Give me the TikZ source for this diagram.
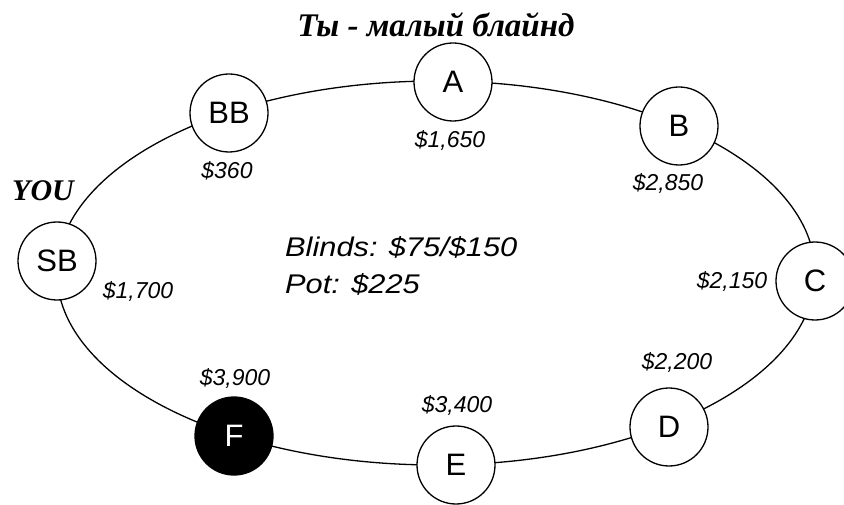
\documentclass[tikz,border=0pt]{standalone}
\usepackage{fontspec}
\setmainfont{Liberation Serif}
\setsansfont{Liberation Sans}
\newfontfamily\widesans[FakeStretch=1.14]{Liberation Sans}
\begin{document}
\begin{tikzpicture}[x=1pt,y=1pt,
  seat/.style={circle,draw,line width=1.3pt,fill=white,minimum size=78pt,inner sep=0pt,
    font=\sffamily\fontsize{31}{34}\selectfont},
  dark/.style={seat,fill=black,text=white},
  chips/.style={font=\sffamily\itshape\fontsize{23}{26}\selectfont,inner sep=0pt},
  boldit/.style={font=\rmfamily\bfseries\itshape\fontsize{33}{36}\selectfont,inner sep=0pt}]
\useasboundingbox (0,0) rectangle (844,504);
\draw[line width=1.3pt] (436,231) ellipse [x radius=379, y radius=192];
\node[seat] (SB) at (57,243) {SB};
\node[seat] (BB) at (229,391) {BB};
\node[seat] (A) at (453,422) {A};
\node[seat] (B) at (679,378) {B};
\node[seat] (C) at (815,223) {C};
\node[seat] (D) at (669,77) {D};
\node[seat] (E) at (456,39) {E};
\node[dark] (F) at (234,68) {F};
\node[chips] (lA) at (450,364) {\$1,650};
\node[chips] (lBB) at (227,333) {\$360};
\node[chips] (lB) at (668,321) {\$2,850};
\node[chips] (lC) at (732,223) {\$2,150};
\node[chips] (lD) at (677,142) {\$2,200};
\node[chips] (lE) at (457,99) {\$3,400};
\node[chips] (lF) at (235,126) {\$3,900};
\node[chips] (lSB) at (138,213) {\$1,700};
\node[boldit,font=\rmfamily\bfseries\itshape\fontsize{30}{33}\selectfont] (you) at (43,313) {YOU};
\node[boldit] (title) at (436,479) {Ты - малый блайнд};
\node[chips,font=\widesans\itshape\fontsize{27}{37}\selectfont,anchor=north west,align=left] (info) at (285,268) {Blinds: \$75/\$150\\Pot: \$225};
\end{tikzpicture}
\end{document}
